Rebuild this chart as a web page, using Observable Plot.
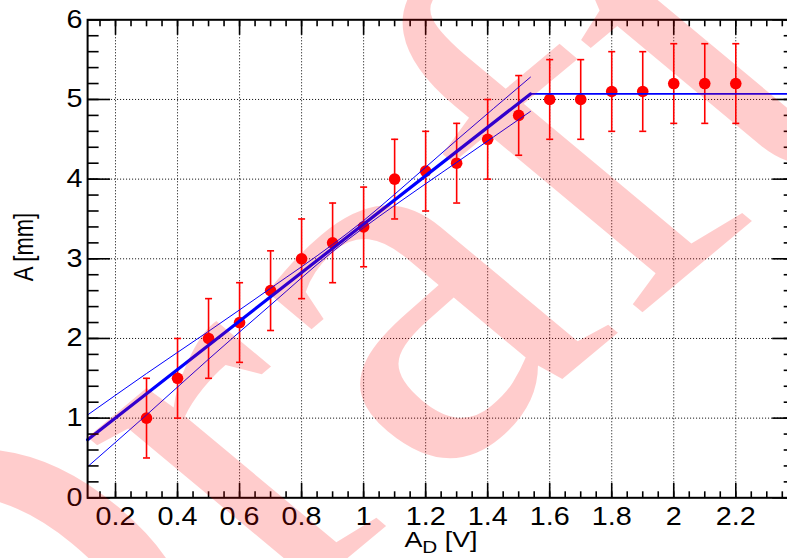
<!DOCTYPE html>
<html>
<head>
<meta charset="utf-8">
<script src="https://cdn.jsdelivr.net/npm/d3@7"></script>
<script src="https://cdn.jsdelivr.net/npm/@observablehq/plot@0.6"></script>
<style>
  html, body { margin: 0; padding: 0; background: #fff; }
  #chart { width: 787px; height: 558px; overflow: hidden; }
  #chart svg { display: block; }
</style>
</head>
<body>
<div id="chart"></div>
<script>
// Measured amplitude A [mm] versus drive amplitude A_D [V]
const driveVoltage = [0.3, 0.4, 0.5, 0.6, 0.7, 0.8, 0.9, 1.0, 1.1, 1.2,
                      1.3, 1.4, 1.5, 1.6, 1.7, 1.8, 1.9, 2.0, 2.1, 2.2];
const amplitude    = [1.0, 1.5, 2.0, 2.2, 2.6, 3.0, 3.2, 3.4, 4.0, 4.1,
                      4.2, 4.5, 4.8, 5.0, 5.0, 5.1, 5.1, 5.2, 5.2, 5.2];
const amplitudeErr = [0.5, 0.5, 0.5, 0.5, 0.5, 0.5, 0.5, 0.5, 0.5, 0.5,
                      0.5, 0.5, 0.5, 0.5, 0.5, 0.5, 0.5, 0.5, 0.5, 0.5];

// Broken-line fit: linear rise, then saturation plateau
const riseX    = [0.11, 1.538];
const riseY    = [0.73, 5.07];
const plateauX = [1.538, 2.39];
const plateauY = [5.07, 5.07];

// Error band of the rising part
const bandX     = [0.11, 0.3, 0.5, 0.7, 0.9, 1.0, 1.1, 1.3, 1.538];
const bandUpper = [1.04, 1.56, 2.09, 2.63, 3.18, 3.48, 3.81, 4.49, 5.28];
const bandLower = [0.39, 1.04, 1.74, 2.42, 3.09, 3.39, 3.67, 4.21, 4.85];

// Axes
const xDomain = [0.11, 2.39];
const yDomain = [0, 6];
const xMajor = [0.2, 0.4, 0.6, 0.8, 1.0, 1.2, 1.4, 1.6, 1.8, 2.0, 2.2];
const xLabels = ["0.2", "0.4", "0.6", "0.8", "1", "1.2", "1.4", "1.6", "1.8", "2", "2.2"];
const yMajor = [0, 1, 2, 3, 4, 5, 6];
const yLabels = ["0", "1", "2", "3", "4", "5", "6"];
const xGrid = xMajor;
const yGrid = [1, 2, 3, 4, 5];
const xMinor = d3.range(3, 48).map(i => +(i * 0.05).toFixed(2));
const yMinor = d3.range(0, 31).map(i => +(i * 0.2).toFixed(1));

const points = driveVoltage.map((x, i) => ({x, a: amplitude[i], err: amplitudeErr[i]}));
const rise = riseX.map((x, i) => ({x, y: riseY[i]}));
const plateau = plateauX.map((x, i) => ({x, y: plateauY[i]}));
const band = bandX.map((x, i) => ({x, upper: bandUpper[i], lower: bandLower[i]}));

// Short horizontal bar used as the error-bar cap
const capSymbol = {
  draw(context, size) {
    const w = Math.sqrt(size / Math.PI);
    context.moveTo(-w, 0);
    context.lineTo(w, 0);
  }
};

const font = "Liberation Sans, Arial, Helvetica, sans-serif";
const blue = "#0000ff";
const red = "#ff0000";

const chart = Plot.plot({
  width: 787,
  height: 558,
  marginLeft: 87.1,
  marginRight: -7.2,
  marginTop: 19.3,
  marginBottom: 60.7,
  style: {fontFamily: font, fontSize: "25px", background: "white", color: "#000"},
  x: {domain: xDomain},
  y: {domain: yDomain},
  marks: [
    Plot.gridX(xGrid, {stroke: "#000", strokeOpacity: 1, strokeWidth: 1, strokeDasharray: "1,2"}),
    Plot.gridY(yGrid, {stroke: "#000", strokeOpacity: 1, strokeWidth: 1, strokeDasharray: "1,2"}),

    // error bars and markers
    Plot.ruleX(points, {x: "x", y1: d => d.a - d.err, y2: d => d.a + d.err, stroke: red, strokeWidth: 1.6}),
    Plot.dot(points, {x: "x", y: d => d.a + d.err, symbol: capSymbol, r: 3.5, stroke: red, strokeWidth: 1.6, fill: "none"}),
    Plot.dot(points, {x: "x", y: d => d.a - d.err, symbol: capSymbol, r: 3.5, stroke: red, strokeWidth: 1.6, fill: "none"}),
    Plot.dot(points, {x: "x", y: "a", r: 5.8, fill: red, stroke: "none"}),

    // fit and its band
    Plot.line(band, {x: "x", y: "upper", stroke: blue, strokeWidth: 1, curve: "monotone-x"}),
    Plot.line(band, {x: "x", y: "lower", stroke: blue, strokeWidth: 1, curve: "monotone-x"}),
    Plot.line(rise, {x: "x", y: "y", stroke: blue, strokeWidth: 3.2}),
    Plot.line(plateau, {x: "x", y: "y", stroke: blue, strokeWidth: 1.8}),

    Plot.frame({stroke: "#000", strokeWidth: 2}),

    // inward ticks on all four sides
    Plot.axisX({ticks: xMinor, anchor: "bottom", tickSize: 6, dy: -6, text: null, label: null, strokeWidth: 1.6}),
    Plot.axisX({ticks: xMajor, anchor: "bottom", tickSize: 14.5, dy: -14.5, text: null, label: null, strokeWidth: 1.6}),
    Plot.axisX({ticks: xMinor, anchor: "top", tickSize: 6, dy: 6, text: null, label: null, strokeWidth: 1.6}),
    Plot.axisX({ticks: xMajor, anchor: "top", tickSize: 14.5, dy: 14.5, text: null, label: null, strokeWidth: 1.6}),
    Plot.axisY({ticks: yMinor, anchor: "left", tickSize: 11.5, dx: 11.5, text: null, label: null, strokeWidth: 1.6}),
    Plot.axisY({ticks: yMajor, anchor: "left", tickSize: 23, dx: 23, text: null, label: null, strokeWidth: 1.6}),
    Plot.axisY({ticks: yMinor, anchor: "right", tickSize: 11.5, dx: -11.5, text: null, label: null, strokeWidth: 1.6}),
    Plot.axisY({ticks: yMajor, anchor: "right", tickSize: 23, dx: -23, text: null, label: null, strokeWidth: 1.6}),

    // tick labels
    Plot.axisX({ticks: xMajor, anchor: "bottom", tickSize: 0, tickPadding: 9, label: null,
                tickFormat: (d, i) => xLabels[i], fontSize: 25, fill: "#000"}),
    Plot.axisY({ticks: yMajor, anchor: "left", tickSize: 0, tickPadding: 5, label: null,
                tickFormat: (d, i) => yLabels[i], fontSize: 25, fill: "#000"})
  ]
});

document.getElementById("chart").appendChild(chart);

const svg = d3.select(chart);

// widen the tick-label glyphs a little, keeping each label on its anchor
svg.selectAll('g[aria-label="x-axis tick label"] text, g[aria-label="y-axis tick label"] text')
  .attr("transform", function() {
    const t = this.getAttribute("transform") || "";
    return t + " scale(1.15,1)";
  });

// axis titles
const xTitle = svg.append("g")
  .attr("transform", "translate(441,546.7) scale(1.22,1)")
  .append("text")
  .attr("text-anchor", "middle")
  .attr("font-family", font)
  .attr("font-size", 22)
  .attr("fill", "#000");
xTitle.append("tspan").text("A");
xTitle.append("tspan").attr("font-size", 17).attr("dy", 6.5).text("D");
xTitle.append("tspan").attr("dy", -6.5).text(" [V]");

svg.append("g")
  .attr("transform", "translate(33,247) scale(1.22,1) rotate(-90)")
  .append("text")
  .attr("text-anchor", "middle")
  .attr("font-family", font)
  .attr("font-size", 22)
  .attr("fill", "#000")
  .text("A [mm]");

// translucent "Draft" watermark across the whole picture
svg.append("text")
  .attr("transform", "translate(428,491) scale(1.2,1) rotate(-45)")
  .attr("text-anchor", "middle")
  .attr("font-family", "Liberation Serif, Times New Roman, serif")
  .attr("font-size", 520)
  .attr("fill", red)
  .attr("fill-opacity", 0.2)
  .text("Draft");
</script>
</body>
</html>
